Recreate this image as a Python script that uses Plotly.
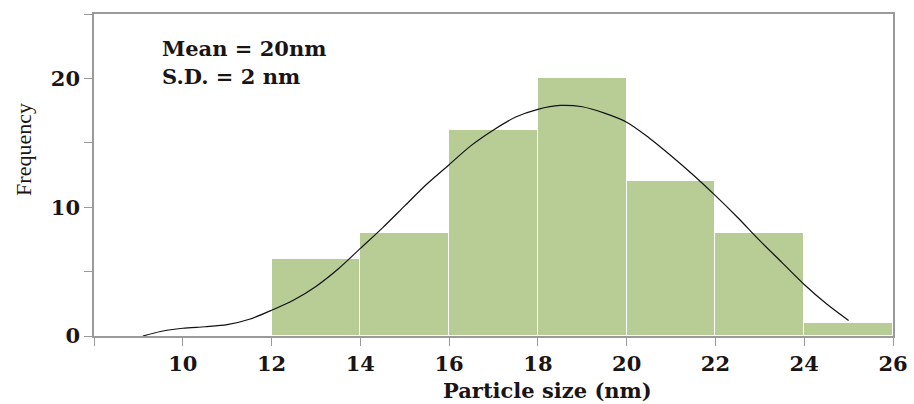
import plotly.graph_objects as go

# Histogram data
bin_left = [12, 14, 16, 18, 20, 22, 24]
bin_width = 2
counts = [6, 8, 16, 20, 12, 8, 1]

# Fitted curve
curve_x = [9.1, 9.5, 10, 10.5, 11, 11.5, 12, 12.5, 13, 13.5, 14, 14.5, 15, 15.5, 16, 16.5,
           17, 17.5, 18, 18.5, 19, 19.5, 20, 20.5, 21, 21.5, 22, 22.5, 23, 23.5, 24, 24.5, 25]
curve_y = [0, 0.35, 0.6, 0.72, 0.88, 1.3, 2.0, 2.8, 3.85, 5.2, 6.8, 8.4, 10.1, 11.8, 13.3, 14.8,
           16.0, 17.0, 17.6, 17.9, 17.8, 17.3, 16.6, 15.4, 14.0, 12.5, 10.9, 9.2, 7.4, 5.7, 4.0, 2.5, 1.2]

x_ticks = [8, 10, 12, 14, 16, 18, 20, 22, 24, 26]
x_ticktext = ["", "10", "12", "14", "16", "18", "20", "22", "24", "26"]
y_ticks = [0, 5, 10, 15, 20, 25]
y_ticktext = ["0", "", "10", "", "20", ""]

FONT = "DejaVu Serif"
TXT = "#1a1414"
AX = "#9a9a9a"

fig = go.Figure()
fig.add_trace(go.Bar(
    x=[b + bin_width / 2 for b in bin_left],
    y=counts,
    width=bin_width,
    marker=dict(color="#b8cd96", line=dict(color="white", width=1)),
    showlegend=False,
    hoverinfo="skip",
))
fig.add_trace(go.Scatter(
    x=curve_x, y=curve_y, mode="lines",
    line=dict(color="#111111", width=1.2, shape="spline", smoothing=0.8),
    showlegend=False,
))

fig.update_layout(
    width=914, height=404,
    margin=dict(l=94, r=21, t=14, b=68),
    paper_bgcolor="white", plot_bgcolor="white",
    bargap=0,
    font=dict(family=FONT, color=TXT),
    xaxis=dict(
        range=[8, 26], tickvals=x_ticks, ticktext=x_ticktext,
        ticks="outside", ticklen=8, tickcolor=AX, tickwidth=1,
        showline=True, linecolor=AX, linewidth=1.5, mirror=True,
        showgrid=False, zeroline=False, automargin=False,
        tickfont=dict(family=FONT, size=21, color=TXT, weight="bold"),
    ),
    yaxis=dict(
        range=[0, 25], tickvals=y_ticks, ticktext=y_ticktext,
        ticks="outside", ticklen=8, tickcolor=AX, tickwidth=1,
        showline=True, linecolor=AX, linewidth=1.5, mirror=True,
        showgrid=False, zeroline=False, automargin=False,
        tickfont=dict(family=FONT, size=21, color=TXT, weight="bold"),
    ),
    annotations=[
        dict(text="<b>Mean = 20nm</b>", xref="paper", yref="paper", x=0.083, y=0.894,
             xanchor="left", yanchor="middle", showarrow=False,
             font=dict(family=FONT, size=21, color=TXT)),
        dict(text="<b>S.D. = 2 nm</b>", xref="paper", yref="paper", x=0.083, y=0.807,
             xanchor="left", yanchor="middle", showarrow=False,
             font=dict(family=FONT, size=21, color=TXT)),
        dict(text="<b>Particle size (nm)</b>", xref="paper", yref="paper", x=0.568, y=-0.168,
             xanchor="center", yanchor="middle", showarrow=False, borderpad=0,
             font=dict(family=FONT, size=21, color=TXT)),
        dict(text="Frequency", xref="paper", yref="paper", x=-0.088, y=0.58,
             xanchor="center", yanchor="middle", showarrow=False, textangle=-90,
             font=dict(family="Liberation Serif", size=22, color=TXT)),
    ],
)

fig.write_html("out.html", config={"displayModeBar": False},
               post_script="document.body.style.margin='0';")
